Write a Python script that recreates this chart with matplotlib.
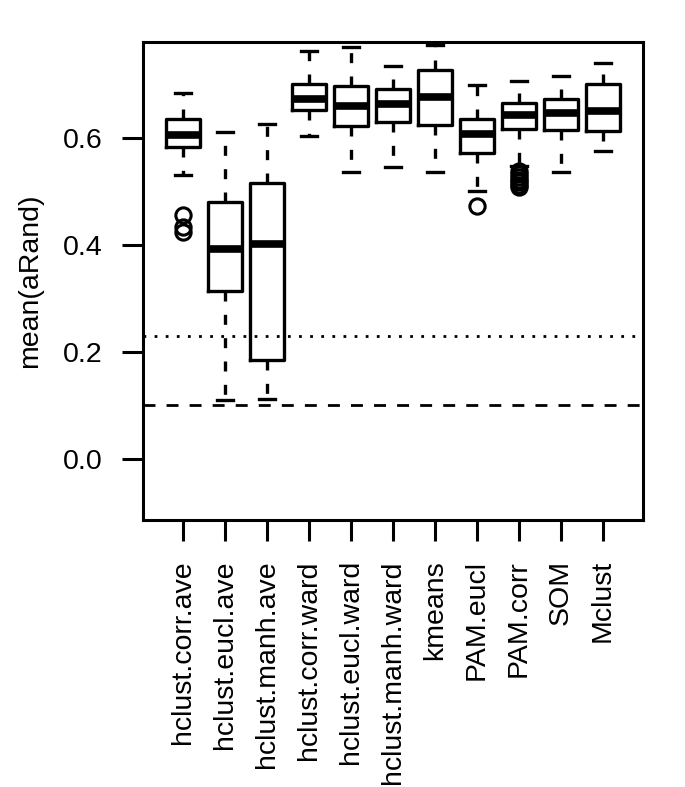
import matplotlib
matplotlib.use("Agg")
import matplotlib.pyplot as plt

plt.rcParams['font.family'] = ['Liberation Sans', 'DejaVu Sans']

# method names (x axis)
methods = ["hclust.corr.ave", "hclust.eucl.ave", "hclust.manh.ave",
           "hclust.corr.ward", "hclust.eucl.ward", "hclust.manh.ward",
           "kmeans", "PAM.eucl", "PAM.corr", "SOM", "Mclust"]

# box statistics
whislo = [0.530, 0.110, 0.112, 0.604, 0.537, 0.546, 0.537, 0.500, 0.548, 0.536, 0.575]
q1     = [0.583, 0.313, 0.184, 0.652, 0.623, 0.630, 0.624, 0.572, 0.617, 0.614, 0.612]
med    = [0.606, 0.392, 0.401, 0.673, 0.659, 0.663, 0.677, 0.607, 0.642, 0.646, 0.650]
q3     = [0.636, 0.480, 0.516, 0.700, 0.697, 0.691, 0.726, 0.635, 0.666, 0.673, 0.701]
whishi = [0.683, 0.610, 0.626, 0.762, 0.770, 0.735, 0.774, 0.698, 0.707, 0.716, 0.740]
fliers = [[0.456, 0.434, 0.424], [], [], [], [], [], [], [0.473],
          [0.538, 0.532, 0.527, 0.522, 0.517, 0.512, 0.508], [], []]

# reference lines
dotted_level = 0.23
dashed_level = 0.10

stats = []
for i in range(len(methods)):
    stats.append(dict(label=methods[i], whislo=whislo[i], q1=q1[i], med=med[i],
                      q3=q3[i], whishi=whishi[i], fliers=fliers[i]))

fig = plt.figure(figsize=(6.85, 7.87), dpi=100)
ax = fig.add_axes([0.2088, 0.3393, 0.7299, 0.6073])

lw = 2.4
ax.bxp(stats, positions=range(1, len(methods) + 1), widths=0.8,
       showfliers=True,
       boxprops=dict(color="black", linewidth=lw),
       medianprops=dict(color="black", linewidth=5.5, solid_capstyle="butt"),
       whiskerprops=dict(color="black", linewidth=lw, linestyle=(0, (3, 4))),
       capprops=dict(color="black", linewidth=lw),
       flierprops=dict(marker="o", markersize=11, markerfacecolor="none",
                       markeredgecolor="black", markeredgewidth=2.2))

ax.axhline(dotted_level, color="black", linewidth=2, linestyle=(0, (1, 3)))
ax.axhline(dashed_level, color="black", linewidth=2, linestyle=(0, (4.3, 4)))

ax.set_xlim(0.05, 11.95)
ax.set_ylim(-0.114, 0.779)
ax.set_yticks([0.0, 0.2, 0.4, 0.6])
ax.set_yticklabels(["0.0", "0.2", "0.4", "0.6"])
ax.set_xticks(range(1, len(methods) + 1))
ax.set_xticklabels(methods, rotation=90, va="top", ha="center")

ax.tick_params(axis="both", direction="out", length=15, width=2.2,
               labelsize=20.5, pad=14)
for sp in ax.spines.values():
    sp.set_linewidth(2.2)

ax.set_ylabel("mean(aRand)", fontsize=20.5, labelpad=14)

fig.savefig("out.png", dpi=100)
